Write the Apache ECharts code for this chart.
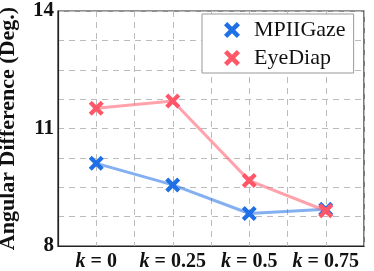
<!DOCTYPE html>
<html><head><meta charset="utf-8">
<script src="https://cdn.jsdelivr.net/npm/echarts@6/dist/echarts.min.js"></script>
<style>html,body{margin:0;padding:0;background:#fff}#c{width:374px;height:271px}</style>
</head><body><div id="c"></div>
<script>
const categories = ['0', '0.25', '0.5', '0.75'];
const mpiigaze = [10.11, 9.56, 8.83, 8.94];
const eyediap = [11.52, 11.70, 9.67, 8.90];
const yTickLabels = [8, 11, 14];

const X = 'path://M0,2 L2,0 L5,3 L8,0 L10,2 L7,5 L10,8 L8,10 L5,7 L2,10 L0,8 L3,5 Z';
const serif = 'Liberation Serif';
const blue = '#1f6fe6', red = '#ff5668';

const toPts = arr => arr.map((v, i) => [i, v]);

const chart = echarts.init(document.getElementById('c'));
chart.setOption({
  animation: false,
  grid: {left: 58, right: 10, top: 11, bottom: 25, show: true, borderColor: '#222', borderWidth: 1.2,
         outerBoundsMode: 'none', containLabel: false},
  xAxis: {
    type: 'value', min: -0.5, max: 3.5, interval: 0.5,
    axisLine: {show: true, onZero: false, lineStyle: {color: '#222', width: 1.2}},
    axisTick: {show: false},
    splitLine: {show: true, lineStyle: {type: [6, 5], color: '#bbb', width: 1}},
    axisLabel: {
      margin: 6, align: 'center',
      formatter: v => (Number.isInteger(v) && v >= 0 && v < categories.length) ? '{i|k}{n| = ' + categories[v] + '}' : '',
      fontFamily: serif, fontWeight: 'bold', fontSize: 20, color: '#111',
      rich: {
        i: {fontStyle: 'italic', fontFamily: serif, fontWeight: 'bold', fontSize: 20, color: '#111'},
        n: {fontFamily: serif, fontWeight: 'bold', fontSize: 20, color: '#111'}
      }
    }
  },
  yAxis: {
    type: 'value', min: 8, max: 14, interval: 0.75,
    name: 'Angular Difference (Deg.)', nameLocation: 'middle', nameGap: 39,
    nameTextStyle: {fontFamily: serif, fontWeight: 'bold', fontSize: 22, color: '#111'},
    axisLine: {show: true, onZero: false, lineStyle: {color: '#222', width: 1.2}},
    axisTick: {show: false},
    splitLine: {show: true, lineStyle: {type: [6, 5], color: '#bbb', width: 1}},
    axisLabel: {
      margin: 4,
      formatter: v => yTickLabels.includes(v) ? String(v) : '',
      fontFamily: serif, fontWeight: 'bold', fontSize: 21, color: '#111'
    }
  },
  legend: {
    orient: 'vertical', left: 202, top: 14, width: 156,
    padding: [5, 8, 4, 22], itemGap: 6, itemWidth: 16, itemHeight: 16,
    backgroundColor: '#fff', borderColor: '#999', borderWidth: 1, borderRadius: 0,
    textStyle: {fontFamily: serif, fontSize: 22, color: '#111', padding: [0, 0, 0, 9]},
    data: [{name: 'MPIIGaze', icon: X}, {name: 'EyeDiap', icon: X}]
  },
  series: [
    {name: 'MPIIGaze', type: 'line', data: toPts(mpiigaze), symbol: X, symbolSize: 15,
     itemStyle: {color: blue}, lineStyle: {color: blue, width: 3, opacity: 0.55}, z: 3},
    {name: 'EyeDiap', type: 'line', data: toPts(eyediap), symbol: X, symbolSize: 15,
     itemStyle: {color: red}, lineStyle: {color: red, width: 3, opacity: 0.55}, z: 4}
  ]
});
</script></body></html>
